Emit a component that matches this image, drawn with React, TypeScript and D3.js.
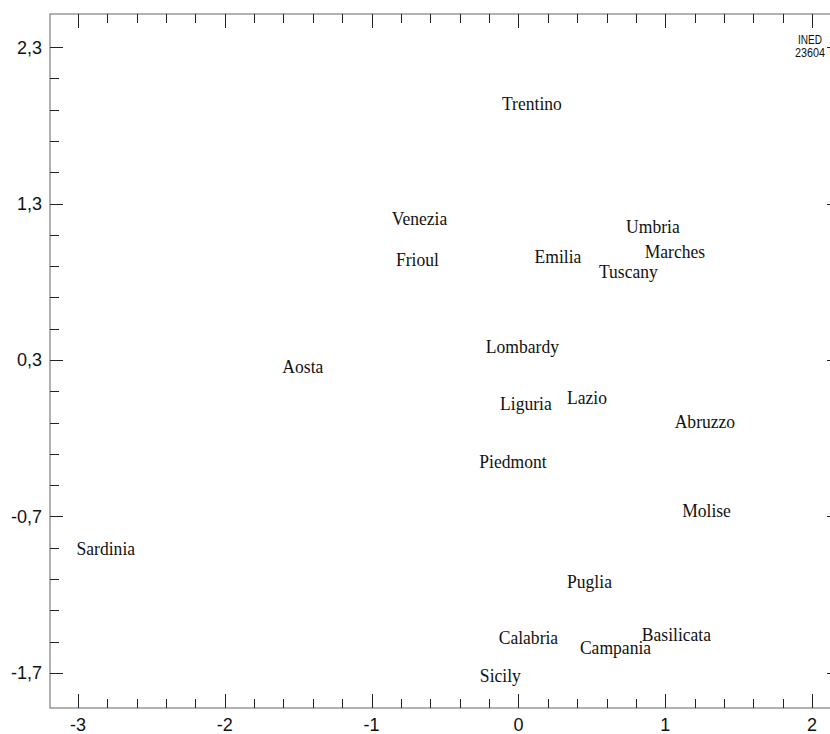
import React from "react";
import * as d3 from "d3";

const regions = [
  "Trentino", "Venezia", "Frioul", "Emilia", "Umbria", "Marches", "Tuscany",
  "Lombardy", "Aosta", "Liguria", "Lazio", "Abruzzo", "Piedmont", "Molise",
  "Sardinia", "Puglia", "Calabria", "Campania", "Basilicata", "Sicily",
];
const xValues = [
  0.092, -0.674, -0.688, 0.269, 0.916, 1.066, 0.749,
  0.027, -1.468, 0.051, 0.467, 1.270, -0.037, 1.281,
  -2.810, 0.484, 0.068, 0.661, 1.076, -0.123,
];
const yValues = [
  1.939, 1.198, 0.936, 0.961, 1.153, 0.993, 0.865,
  0.386, 0.252, 0.016, 0.060, -0.099, -0.349, -0.665,
  -0.905, -1.120, -1.478, -1.538, -1.460, -1.722,
];
const xTickLabels = ["-3", "-2", "-1", "0", "1", "2"];
const yTickLabels = ["2,3", "1,3", "0,3", "-0,7", "-1,7"];
const xMajor = [-3, -2, -1, 0, 1, 2];
const yMajor = [2.3, 1.3, 0.3, -0.7, -1.7];
const stamp = ["INED", "23604"];

const W = 830;
const H = 734;
const L = 50, R = 840, T = 14, B = 708;

export default function App() {
  const x = d3.scaleLinear().domain([-3.19, 2.19]).range([L, R]);
  const y = d3.scaleLinear().domain([-1.924, 2.511]).range([B, T]);

  const xTicks = d3.range(0, 26).map((i) => -3 + i * 0.2);
  const yTicks = d3.range(0, 21).map((i) => -1.7 + i * 0.2);
  const isMajor = (v: number, majors: number[]) => majors.some((m) => Math.abs(m - v) < 1e-6);

  const tickColor = "#222";
  const frameColor = "#888";

  return (
    <svg width={W} height={H} style={{ position: "absolute", left: 0, top: 0, background: "#fff" }}>
      {/* frame */}
      <rect x={L} y={T} width={R - L} height={B - T} fill="none" stroke={frameColor} strokeWidth={1.3} />
      {/* x ticks */}
      {xTicks.map((v, i) => {
        const px = Math.round(x(v)) + 0.5;
        const len = isMajor(v, xMajor) ? 14 : 9;
        return (
          <g key={"xt" + i} stroke={tickColor} strokeWidth={1}>
            <line x1={px} x2={px} y1={T} y2={T + len} />
            <line x1={px} x2={px} y1={B} y2={B - len} />
          </g>
        );
      })}
      {/* y ticks */}
      {yTicks.map((v, i) => {
        const py = Math.round(y(v)) + 0.5;
        const len = isMajor(v, yMajor) ? 13 : 9;
        return (
          <g key={"yt" + i} stroke={tickColor} strokeWidth={1}>
            <line x1={L} x2={L + len} y1={py} y2={py} />
            <line x1={R} x2={R - len} y1={py} y2={py} />
          </g>
        );
      })}
      {/* x tick labels */}
      {xMajor.map((v, i) => (
        <text key={"xl" + i} x={x(v)} y={731} textAnchor="middle"
          fontFamily="Liberation Sans, Arial, sans-serif" fontSize={18} fill="#111">
          {xTickLabels[i]}
        </text>
      ))}
      {/* y tick labels */}
      {yMajor.map((v, i) => (
        <text key={"yl" + i} x={42} y={y(v) + 6.5} textAnchor="end"
          fontFamily="Liberation Sans, Arial, sans-serif" fontSize={18} fill="#111">
          {yTickLabels[i]}
        </text>
      ))}
      {/* stamp */}
      <text x={822} y={44} textAnchor="end" fontFamily="Liberation Sans, Arial, sans-serif"
        fontSize={12} textLength={24} lengthAdjust="spacingAndGlyphs" fill="#111">{stamp[0]}</text>
      <text x={825} y={57} textAnchor="end" fontFamily="Liberation Sans, Arial, sans-serif"
        fontSize={12} textLength={30} lengthAdjust="spacingAndGlyphs" fill="#111">{stamp[1]}</text>
      {/* region labels */}
      {regions.map((name, i) => (
        <g key={name} transform={`translate(${x(xValues[i])},${y(yValues[i]) + 6}) scale(0.95,1)`}>
          <text textAnchor="middle" fontFamily="Liberation Serif, Times New Roman, serif"
            fontSize={18.5} fill="#111">{name}</text>
        </g>
      ))}
    </svg>
  );
}
